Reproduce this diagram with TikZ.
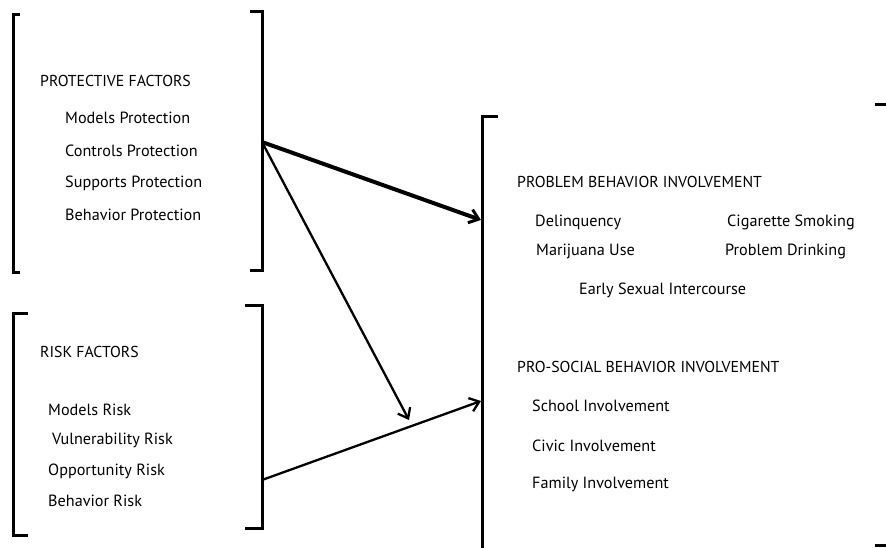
\documentclass[tikz,border=0pt]{standalone}
\usepackage{fontspec}
\setmainfont{PT Sans}
\usetikzlibrary{arrows.meta}
\begin{document}
\begin{tikzpicture}[x=1pt,y=-1pt,
  brk/.style={line width=3pt,line cap=butt,line join=miter},
  head/.style={anchor=west,inner sep=0pt,font=\fontsize{15.8}{18}\selectfont},
  item/.style={anchor=west,inner sep=0pt,font=\fontsize{16.2}{19}\selectfont},
  arr/.style={line width=2.3pt,-{Straight Barb[length=9pt,width=14pt,line width=2.3pt]}},
  tarr/.style={line width=4pt,-{Straight Barb[length=9pt,width=14pt,line width=3pt]}}]
\useasboundingbox (0,0) rectangle (886,548);
% brackets
\draw[brk] (20,15) -- (13,15) -- (13,272) -- (20,272);
\draw[brk] (250,12) -- (262,12) -- (262,270) -- (250,270);
\draw[brk] (28,313) -- (13,313) -- (13,535) -- (28,535);
\draw[brk] (245,305) -- (262,305) -- (262,528) -- (245,528);
\draw[brk] (498,117) -- (482,117) -- (482,548);
\draw[brk] (875,105) -- (886,105);
\draw[brk] (875,545) -- (886,545);
% coordinates
\coordinate (pf) at (262,142);
\coordinate (rf) at (262,480);
\coordinate (pb) at (481,220);
\coordinate (ps) at (481,401);
\coordinate (mid) at (409,420);
% texts
\node[head] (pft) at (40,81) {PROTECTIVE FACTORS};
\node[item] (p1) at (65,118) {Models Protection};
\node[item] (p2) at (65,151) {Controls Protection};
\node[item] (p3) at (65,183) {Supports Protection};
\node[item] (p4) at (65,215) {Behavior Protection};
\node[head] (rft) at (40,352) {RISK FACTORS};
\node[item] (r1) at (48,410) {Models Risk};
\node[item] (r2) at (52,440) {Vulnerability Risk};
\node[item] (r3) at (48,471) {Opportunity Risk};
\node[item] (r4) at (48,501) {Behavior Risk};
\node[head] (pbt) at (517,182) {PROBLEM BEHAVIOR INVOLVEMENT};
\node[item] (b1) at (535,222) {Delinquency};
\node[item] (b2) at (727,222) {Cigarette Smoking};
\node[item] (b3) at (536,251) {Marijuana Use};
\node[item] (b4) at (725,251) {Problem Drinking};
\node[item] (b5) at (579,290) {Early Sexual Intercourse};
\node[head] (pst) at (517,367) {PRO-SOCIAL BEHAVIOR INVOLVEMENT};
\node[item] (s1) at (532,406) {School Involvement};
\node[item] (s2) at (532,446) {Civic Involvement};
\node[item] (s3) at (532,484) {Family Involvement};
% arrows
\draw[tarr] (pf) -- (pb);
\draw[arr] (pf) -- (mid);
\draw[arr] (rf) -- (ps);
\end{tikzpicture}
\end{document}
